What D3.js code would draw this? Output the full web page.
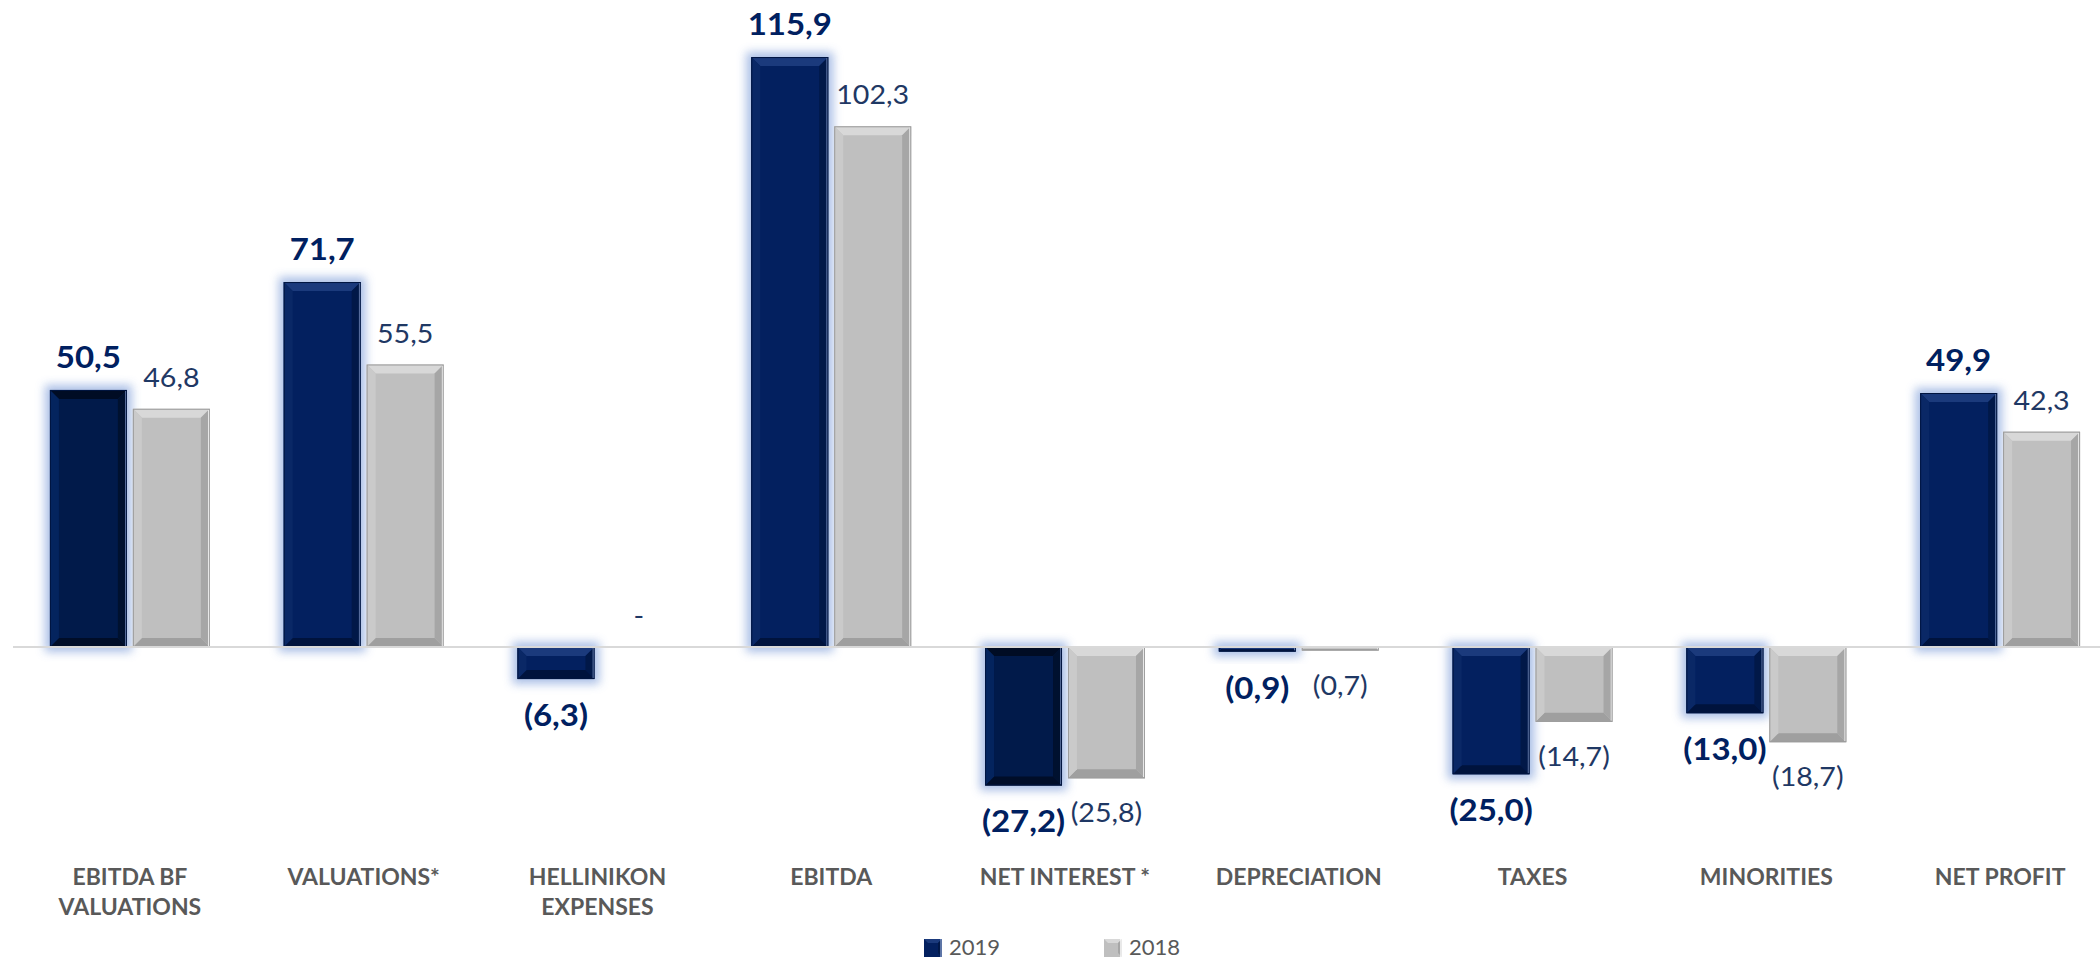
<!DOCTYPE html>
<html lang="en">
<head>
<meta charset="utf-8">
<title>EBITDA to Net Profit</title>
<script src="https://cdn.jsdelivr.net/npm/d3@7"></script>
<style>
    body { margin: 0; background: #fff; }
    svg { display: block; font-family: Lato, "Open Sans", sans-serif; }
    .zero { stroke: #d9d9d9; stroke-width: 2px; }
    .cat { fill: #595959; font-weight: bold; font-size: 23px; }
    .val2019 { fill: #002060; font-weight: bold; font-size: 30px; }
    .val2018 { fill: #1f3864; font-size: 26px; }
    .legend text { fill: #595959; font-size: 21px; }
</style>
</head>
<body>
<svg id="chart" width="2100" height="961"></svg>
<script>
// data
var categories = ["EBITDA BF\nVALUATIONS", "VALUATIONS*", "HELLINIKON\nEXPENSES", "EBITDA",
                  "NET INTEREST *", "DEPRECIATION", "TAXES", "MINORITIES", "NET PROFIT"];
var series = ["2019", "2018"];
var values2019 = [50.5, 71.7, -6.3, 115.9, -27.2, -0.9, -25.0, -13.0, 49.9];
var values2018 = [46.8, 55.5, 0, 102.3, -25.8, -0.7, -14.7, -18.7, 42.3];

var svg = d3.select("#chart");

var x0 = d3.scaleBand()
    .domain(categories)
    .range([13, 2117])
    .paddingInner(0.316)
    .paddingOuter(0.158);

var x1 = d3.scaleBand()
    .domain(series)
    .range([0, x0.bandwidth()])
    .paddingInner(0.072);

var pxPerUnit = 5.09, zeroY = 647;
var y = d3.scaleLinear()
    .domain([-40, 120])
    .range([zeroY + 40 * pxPerUnit, zeroY - 120 * pxPerUnit]);

// filters
var defs = svg.append("defs");
defs.append("filter")
    .attr("id", "glow")
    .attr("x", "-50%").attr("y", "-50%").attr("width", "200%").attr("height", "200%")
    .append("feGaussianBlur").attr("stdDeviation", 5);

// bar styles (bevel look)
var styleNavy = { main: "#03205f", top: "#1b3a7c", left: "#0a2866", right: "#011848", bottom: "#00133d", line: "#7d95c6" };
var styleDark = { main: "#011a4a", top: "#000c24", left: "#04245e", right: "#00112f", bottom: "#000d28", line: "#6f86b8" };
var styleGray = { main: "#bfbfbf", top: "#d8d8d8", left: "#cacaca", right: "#a6a6a6", bottom: "#9f9f9f", line: "#ffffff" };
var darkCats = ["EBITDA BF\nVALUATIONS", "NET INTEREST *"];

function fmt(v) {
    if (v === 0) return "-";
    var s = d3.format(".1f")(Math.abs(v)).replace(".", ",");
    return v < 0 ? "(" + s + ")" : s;
}

var rows = [];
categories.forEach(function(c, i) {
    rows.push({ cat: c, s: "2019", v: values2019[i] });
    rows.push({ cat: c, s: "2018", v: values2018[i] });
});

var barsG = svg.append("g");

rows.forEach(function(d) {
    var bx = x0(d.cat) + x1(d.s);
    var bw = x1.bandwidth();
    var by = Math.min(y(d.v), y(0));
    var bh = Math.abs(y(d.v) - y(0));
    if (bh < 0.5) return;
    var st = d.s === "2018" ? styleGray : (darkCats.indexOf(d.cat) >= 0 ? styleDark : styleNavy);
    var g = barsG.append("g");

    if (d.s === "2019") {
        g.append("rect")
            .attr("x", bx - 5).attr("y", by - 5)
            .attr("width", bw + 10).attr("height", bh + 10)
            .attr("fill", "#a3b9e4")
            .attr("opacity", 0.9)
            .attr("filter", "url(#glow)");
    }

    g.append("rect")
        .attr("x", bx).attr("y", by)
        .attr("width", bw).attr("height", bh)
        .attr("fill", st.main);

    var b = Math.min(9, bh / 2, bw / 2);
    var faces = [
        { c: st.top,    p: [[bx, by], [bx + bw, by], [bx + bw - b, by + b], [bx + b, by + b]] },
        { c: st.bottom, p: [[bx, by + bh], [bx + bw, by + bh], [bx + bw - b, by + bh - b], [bx + b, by + bh - b]] },
        { c: st.left,   p: [[bx, by], [bx + b, by + b], [bx + b, by + bh - b], [bx, by + bh]] },
        { c: st.right,  p: [[bx + bw, by], [bx + bw - b, by + b], [bx + bw - b, by + bh - b], [bx + bw, by + bh]] }
    ];
    faces.forEach(function(f) {
        g.append("polygon")
            .attr("points", f.p.map(function(q) { return q.join(","); }).join(" "))
            .attr("fill", f.c);
    });

    // thin highlight at the right edge
    g.append("line")
        .attr("x1", bx + bw - 1).attr("x2", bx + bw - 1)
        .attr("y1", by + 1).attr("y2", by + bh - 1)
        .attr("stroke", st.line).attr("stroke-width", 1.5);

    g.append("rect")
        .attr("x", bx + 0.5).attr("y", by + 0.5)
        .attr("width", bw - 1).attr("height", Math.max(0, bh - 1))
        .attr("fill", "none")
        .attr("stroke", d.s === "2018" ? "#9c9c9c" : "#001540")
        .attr("stroke-width", 1);
});

// zero line
svg.append("line")
    .attr("class", "zero")
    .attr("x1", 13).attr("x2", 2100)
    .attr("y1", y(0)).attr("y2", y(0));

// value labels
svg.append("g").selectAll("text")
    .data(rows)
    .enter().append("text")
    .attr("class", function(d) { return "val" + d.s; })
    .attr("text-anchor", "middle")
    .attr("transform", function(d) {
        var cx = x0(d.cat) + x1(d.s) + x1.bandwidth() / 2;
        var ty = d.v >= 0 ? y(d.v) - 22 : y(d.v) + (d.s === "2019" ? 47 : 44);
        return "translate(" + cx + "," + ty + ") scale(1.1,1)";
    })
    .text(function(d) { return fmt(d.v); });

// category labels
var catG = svg.append("g").selectAll("text")
    .data(categories)
    .enter().append("text")
    .attr("class", "cat")
    .attr("text-anchor", "middle")
    .attr("transform", function(d) {
        return "translate(" + (x0(d) + x0.bandwidth() / 2) + ",885)";
    });

catG.selectAll("tspan")
    .data(function(d) { return d.split("\n"); })
    .enter().append("tspan")
    .attr("x", 0)
    .attr("dy", function(d, i) { return i === 0 ? 0 : 30; })
    .text(function(d) { return d; });

// legend
var legend = svg.append("g")
    .attr("class", "legend")
    .selectAll("g")
    .data(series)
    .enter().append("g")
    .attr("transform", function(d, i) { return "translate(" + (924 + i * 180) + ",939)"; });

legend.each(function(d) {
    var g = d3.select(this);
    var st = d === "2018" ? styleGray : styleNavy;
    var s = 18, b = 4;
    g.append("rect").attr("width", s).attr("height", s).attr("fill", st.main);
    g.append("polygon").attr("points", "0,0 " + s + ",0 " + (s - b) + "," + b + " " + b + "," + b).attr("fill", st.top);
    g.append("polygon").attr("points", s + ",0 " + (s - b) + "," + b + " " + (s - b) + "," + (s - b) + " " + s + "," + s).attr("fill", st.right);
    g.append("line").attr("x1", s - 1).attr("x2", s - 1).attr("y1", 0).attr("y2", s)
        .attr("stroke", st.line).attr("stroke-width", 1.5);
    g.append("text")
        .attr("transform", "translate(25,16) scale(1.05,1)")
        .text(d);
});
</script>
</body>
</html>
